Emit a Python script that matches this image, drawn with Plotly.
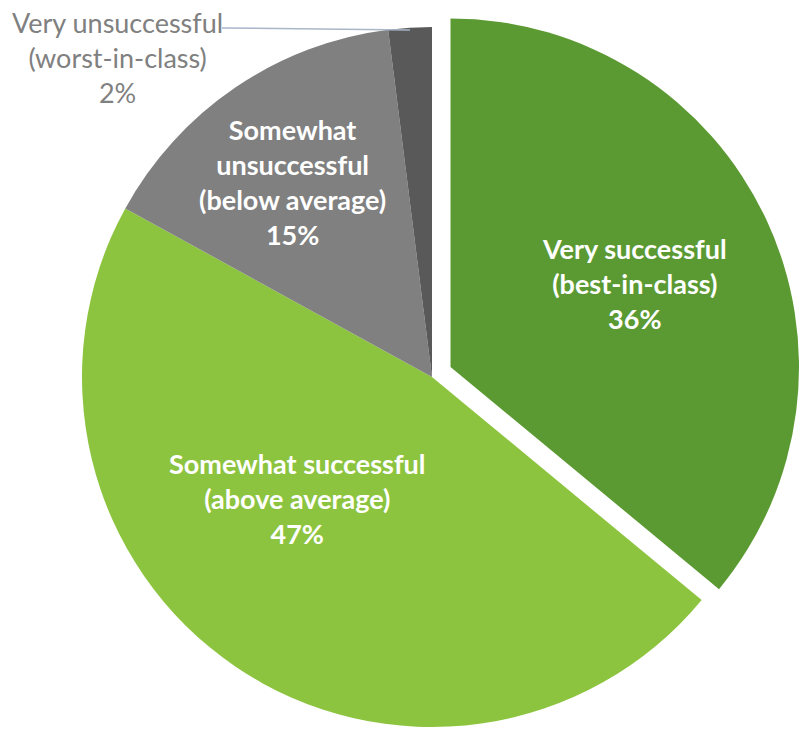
import plotly.graph_objects as go

# Survey outcome shares (percent), clockwise from 12 o'clock
categories = [
    "Very successful<br>(best-in-class)",
    "Somewhat successful<br>(above average)",
    "Somewhat<br>unsuccessful<br>(below average)",
    "Very unsuccessful<br>(worst-in-class)",
]
values = [36, 47, 15, 2]
colors = ["#5b9a33", "#8dc43f", "#808080", "#595959"]

W, H = 799, 731
FONT = "Lato, 'Open Sans', sans-serif"


def px_x(x):
    return x / W


def px_y(y):
    return 1 - y / H


fig = go.Figure()

# Base pie: every slice except the exploded first one
base_colors = ["rgba(0,0,0,0)"] + colors[1:]
fig.add_trace(go.Pie(
    labels=categories, values=values, sort=False, direction="clockwise",
    rotation=0, marker=dict(colors=base_colors, line=dict(width=0)),
    textinfo="none", hoverinfo="label+percent", showlegend=False,
    domain=dict(x=[px_x(82), px_x(782)], y=[px_y(727), px_y(27)]),
))

# Exploded slice, drawn as a second pie shifted along its bisector
pulled_colors = [colors[0]] + ["rgba(0,0,0,0)"] * 3
fig.add_trace(go.Pie(
    labels=categories, values=values, sort=False, direction="clockwise",
    rotation=0, marker=dict(colors=pulled_colors, line=dict(width=0)),
    textinfo="none", hoverinfo="label+percent", showlegend=False,
    domain=dict(x=[px_x(102), 1.0], y=[px_y(715.5), px_y(18.5)]),
))

# Slice labels (name + share)
label_pos = [(634, 283), (297, 498), (292, 182), (117, 57)]
total = sum(values)
for i, (cat, v) in enumerate(zip(categories, values)):
    pct = round(100 * v / total)
    outside = i == 3
    fig.add_annotation(
        x=px_x(label_pos[i][0]), y=px_y(label_pos[i][1]),
        xref="paper", yref="paper", xanchor="center", yanchor="middle",
        text=f"{cat}<br>{pct}%", showarrow=False, align="center",
        font=dict(family=FONT, size=27,
                  color="#808080" if outside else "white",
                  weight="normal" if outside else "bold"),
    )

# Leader line for the small outside label
fig.add_shape(type="line", xref="paper", yref="paper",
              x0=px_x(222), y0=px_y(28), x1=px_x(410), y1=px_y(30),
              line=dict(color="#a9b6c8", width=1.5))

fig.update_layout(
    width=W, height=H, margin=dict(l=0, r=0, t=0, b=0),
    paper_bgcolor="white", plot_bgcolor="white",
)

fig.write_html("out.html")
